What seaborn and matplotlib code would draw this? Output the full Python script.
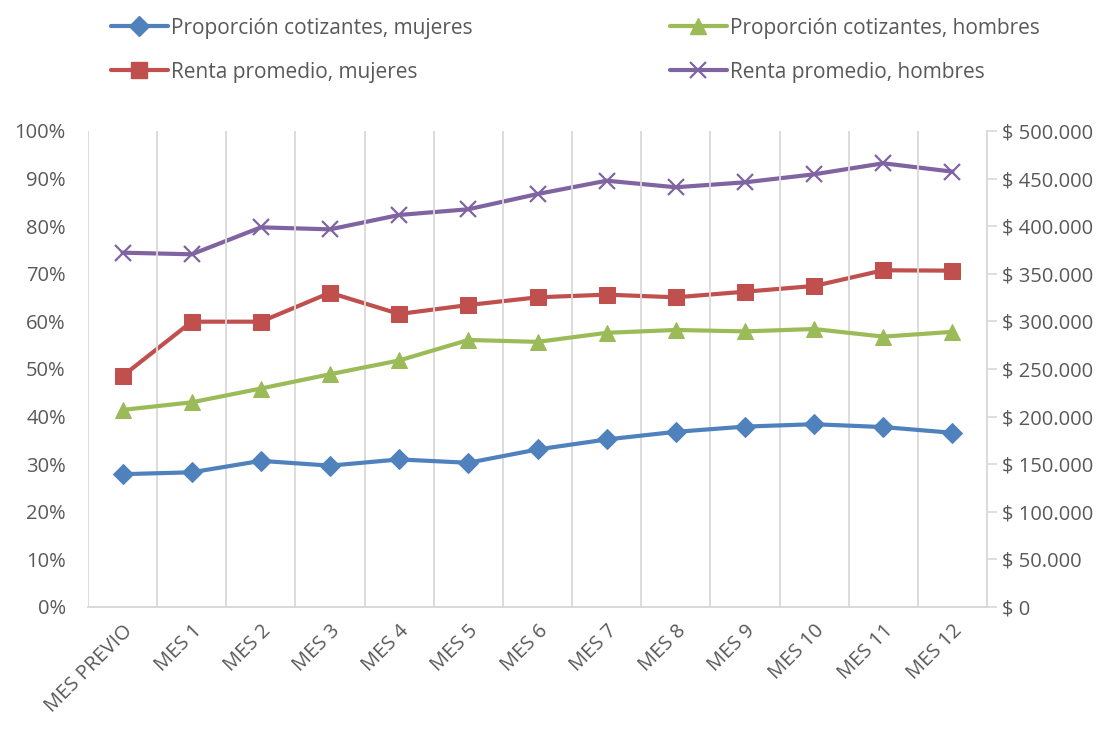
import pandas as pd
import matplotlib.pyplot as plt
import matplotlib.ticker as mticker
from matplotlib.lines import Line2D
import seaborn as sns

# --- data ---
meses = ['MES PREVIO', 'MES 1', 'MES 2', 'MES 3', 'MES 4', 'MES 5', 'MES 6',
         'MES 7', 'MES 8', 'MES 9', 'MES 10', 'MES 11', 'MES 12']
prop_mujeres = [0.279, 0.283, 0.307, 0.297, 0.310, 0.303, 0.331,
                0.352, 0.368, 0.379, 0.384, 0.378, 0.366]
prop_hombres = [0.414, 0.430, 0.459, 0.489, 0.518, 0.561, 0.557,
                0.576, 0.582, 0.579, 0.584, 0.568, 0.578]
renta_mujeres = [242600, 299700, 299700, 330100, 307800, 317200, 325300,
                 328100, 325300, 331200, 337200, 353700, 353300]
renta_hombres = [372200, 370500, 398800, 396700, 411800, 417800, 433800,
                 447800, 440900, 446100, 454500, 466100, 457300]

df = pd.DataFrame({
    'pos': range(len(meses)),
    'mes': meses,
    'prop_mujeres': prop_mujeres,
    'prop_hombres': prop_hombres,
    'renta_mujeres': renta_mujeres,
    'renta_hombres': renta_hombres,
})

BLUE, GREEN, RED, PURPLE = '#4F81BD', '#9BBB59', '#C0504D', '#8064A2'
TXT = '#595959'
GRID = '#D9D9D9'

sns.set_style('white')
plt.rcParams['font.family'] = ['Open Sans', 'DejaVu Sans']

fig = plt.figure(figsize=(11.09, 7.36), dpi=100)
ax = fig.add_axes([88 / 1109, 1 - 607 / 736, (987 - 88) / 1109, (607 - 131) / 736])
ax2 = ax.twinx()

lw = 3.0
styles = {
    'prop_mujeres': dict(color=BLUE, marker='D', markersize=10, markeredgecolor=BLUE),
    'prop_hombres': dict(color=GREEN, marker='^', markersize=12, markeredgecolor=GREEN),
    'renta_mujeres': dict(color=RED, marker='s', markersize=11, markeredgecolor=RED),
    'renta_hombres': dict(color=PURPLE, marker='x', markersize=12, markeredgecolor=PURPLE,
                          markeredgewidth=1.6),
}
for col in ['prop_mujeres', 'prop_hombres']:
    sns.lineplot(data=df, x='pos', y=col, ax=ax, lw=lw, zorder=3, **styles[col])
for col in ['renta_mujeres', 'renta_hombres']:
    sns.lineplot(data=df, x='pos', y=col, ax=ax2, lw=lw, zorder=3, **styles[col])

# left axis
ax.set_ylim(0, 1)
ax.yaxis.set_major_locator(mticker.MultipleLocator(0.1))
ax.yaxis.set_major_formatter(mticker.FuncFormatter(lambda v, p: f'{v * 100:.0f}%'))
ax.set_xlim(-0.5, len(meses) - 0.5)
ax.set_xticks(df['pos'])
ax.set_xticklabels(meses, rotation=45, ha='right', rotation_mode='anchor')
ax.set_xticks([i - 0.5 for i in range(len(meses) + 1)], minor=True)
ax.grid(True, which='minor', axis='x', color=GRID, lw=1.3)
ax.grid(False, which='major')
ax.tick_params(axis='both', which='both', length=0, colors=TXT, labelsize=14.5)
ax.tick_params(axis='y', pad=16)
ax.tick_params(axis='x', pad=10)
ax.set_xlabel('')
ax.set_ylabel('')

# right axis
ax2.set_ylim(0, 500000)
ax2.yaxis.set_major_locator(mticker.MultipleLocator(50000))
ax2.yaxis.set_major_formatter(
    mticker.FuncFormatter(lambda v, p: '$ 0' if v == 0 else '$ ' + f'{v:,.0f}'.replace(',', '.')))
ax2.tick_params(axis='y', length=7, width=1.2, color=GRID, labelcolor=TXT, labelsize=14.5, pad=4)
ax2.set_ylabel('')
ax2.grid(False)

for a in (ax, ax2):
    for s in ('top', 'left', 'right'):
        a.spines[s].set_visible(False)
    a.spines['bottom'].set_color(GRID)
    a.spines['bottom'].set_linewidth(1.3)
ax2.spines['right'].set_visible(True)
ax2.spines['right'].set_color(GRID)
ax2.spines['right'].set_linewidth(1.3)
ax.set_zorder(ax2.get_zorder() + 1)
ax.patch.set_visible(False)

order = ['prop_mujeres', 'renta_mujeres', 'prop_hombres', 'renta_hombres']
handles = [Line2D([], [], lw=lw, **styles[c]) for c in order]
labels = ['Proporción cotizantes, mujeres', 'Renta promedio, mujeres',
          'Proporción cotizantes, hombres', 'Renta promedio, hombres']
fig.legend(handles, labels, loc='upper left', bbox_to_anchor=(92 / 1109, 1 + 1 / 736),
           ncol=2, frameon=False, fontsize=15, labelcolor=TXT, handlelength=2.75,
           handletextpad=0.15, columnspacing=9.45, labelspacing=1.1)

fig.savefig('out.png', dpi=100)
